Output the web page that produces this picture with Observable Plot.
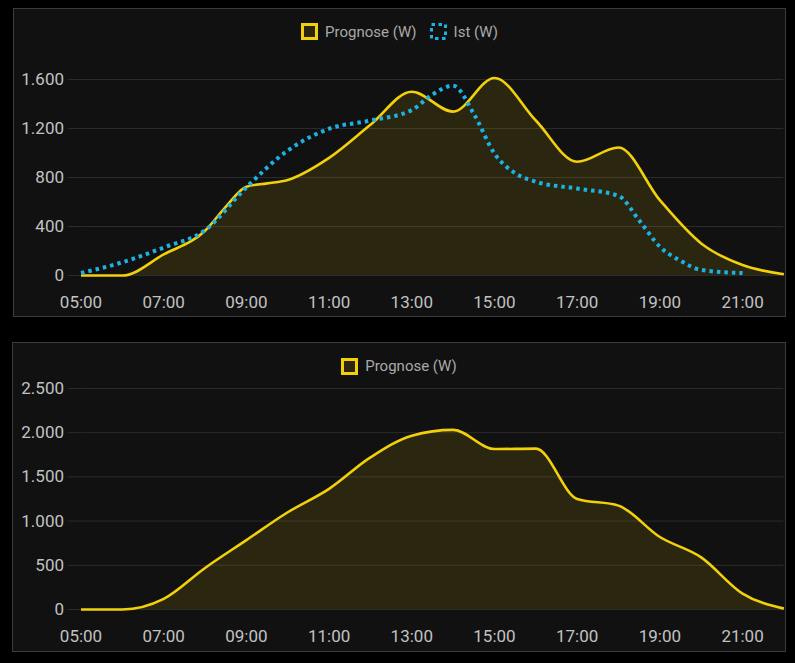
<!DOCTYPE html>
<html>
<head>
<meta charset="utf-8">
<script src="https://cdn.jsdelivr.net/npm/d3@7"></script>
<script src="https://cdn.jsdelivr.net/npm/@observablehq/plot@0.6"></script>
<style>
  html, body { margin:0; padding:0; background:#000; }
  body { width:795px; height:663px; position:relative; overflow:hidden; font-family:Roboto, "Noto Sans", sans-serif; }
  .panel { position:absolute; background:#111111; border:1px solid #3c3c3c; box-sizing:border-box; }
  .chart { position:absolute; }
  .legend { position:absolute; display:flex; justify-content:center; align-items:center; gap:13px; font-size:15px; color:#a9a9a9; }
  .item { display:flex; align-items:center; gap:7px; }
  .item svg { display:block; }
</style>
</head>
<body>
<div class="panel" style="left:13px;top:8px;width:773px;height:309px"></div>
<div class="panel" style="left:12px;top:342px;width:774px;height:310px"></div>
<div id="c1" class="chart" style="left:13px;top:8px"></div>
<div id="c2" class="chart" style="left:12px;top:342px"></div>
<div id="l1" class="legend" style="left:13px;top:22px;width:773px;height:19px"></div>
<div id="l2" class="legend" style="left:12px;top:357px;width:774px;height:18px"></div>
<script>
// ---- data ----
const xTickLabels = ["05:00","07:00","09:00","11:00","13:00","15:00","17:00","19:00","21:00"];
const xDomain = ["05:00","22:00"];

const topYTicks = [0, 400, 800, 1200, 1600];
const topProgTimes = ["05:00","06:00","07:00","08:00","08:30","09:00","09:30","10:00","11:00","12:00","13:00","14:00","15:00","16:00","17:00","18:00","19:00","20:00","21:00","22:00"];
const topProgVals  = [0, 0, 172, 365, 560, 725, 752, 780, 960, 1230, 1500, 1338, 1612, 1265, 928, 1045, 615, 262, 85, 10];
const topIstTimes = ["05:00","06:00","07:00","08:00","09:00","10:00","11:00","12:00","13:00","13:30","14:00","14:30","15:00","15:30","16:00","17:00","18:00","18:30","19:00","19:30","20:00","21:00"];
const topIstVals  = [20, 108, 228, 370, 720, 1020, 1198, 1265, 1350, 1478, 1550, 1320, 995, 835, 765, 710, 650, 450, 235, 120, 45, 20];

const botYTicks = [0, 500, 1000, 1500, 2000, 2500];
const botProgTimes = ["05:00","06:00","07:00","08:00","09:00","10:00","11:00","12:00","13:00","14:00","15:00","16:00","17:00","18:00","19:00","20:00","21:00","22:00"];
const botProgVals  = [0, 0, 120, 470, 785, 1100, 1365, 1720, 1965, 2032, 1815, 1820, 1250, 1175, 820, 590, 180, 10];

const seriesNames = { prog: "Prognose (W)", ist: "Ist (W)" };

// ---- styling ----
const YELLOW = "#f2d00a";
const YELLOW_FILL = "rgba(242,208,10,0.11)";
const BLUE = "#1cb2e6";
const GRID = "#2b2b2b";
const TEXT = "#c2c2c2";

const parse = d3.utcParse("%H:%M");
const de = d3.formatLocale({decimal: ",", thousands: ".", grouping: [3], currency: ["", "€"]});
const fmt = de.format(",d");
const rows = (times, vals) => times.map((t, i) => ({t: parse(t), v: vals[i]}));

function chart({width, height, marginLeft, marginRight, marginTop, marginBottom, yTicks, series}) {
  const marks = [Plot.ruleY(yTicks, {stroke: GRID, strokeWidth: 1})];
  for (const s of series) {
    if (s.fill) marks.push(Plot.areaY(s.data, {x: "t", y: "v", curve: "monotone-x", fill: s.fill}));
  }
  for (const s of series) {
    marks.push(Plot.lineY(s.data, {x: "t", y: "v", curve: "monotone-x", stroke: s.stroke, strokeWidth: s.width, strokeDasharray: s.dash, strokeLinecap: "butt"}));
  }
  marks.push(Plot.axisY({ticks: yTicks, tickFormat: fmt, tickSize: 13, tickPadding: 4, stroke: GRID, fill: TEXT, label: null}));
  marks.push(Plot.axisX({ticks: xTickLabels.map(parse), tickFormat: d3.utcFormat("%H:%M"), tickSize: 0, tickPadding: 20, fill: TEXT, label: null}));
  return Plot.plot({
    width, height, marginLeft, marginRight, marginTop, marginBottom,
    style: {background: "transparent", color: TEXT, fontFamily: "Roboto, sans-serif", fontSize: "17px", overflow: "visible"},
    x: {type: "utc", domain: xDomain.map(parse)},
    y: {domain: [yTicks[0], yTicks[yTicks.length - 1]]},
    marks
  });
}

document.getElementById("c1").append(chart({
  width: 773, height: 309, marginLeft: 67.5, marginRight: 2.6, marginTop: 71, marginBottom: 42,
  yTicks: topYTicks,
  series: [
    {data: rows(topProgTimes, topProgVals), stroke: YELLOW, width: 2.6, fill: YELLOW_FILL},
    {data: rows(topIstTimes, topIstVals), stroke: BLUE, width: 4, dash: "3.5,4"}
  ]
}));

document.getElementById("c2").append(chart({
  width: 774, height: 310, marginLeft: 68.5, marginRight: 2.6, marginTop: 46, marginBottom: 43,
  yTicks: botYTicks,
  series: [
    {data: rows(botProgTimes, botProgVals), stroke: YELLOW, width: 2.6, fill: YELLOW_FILL}
  ]
}));

function legendItem(name, stroke, dash) {
  const d = document.createElement("div");
  d.className = "item";
  d.innerHTML = `<svg width="17" height="17"><rect x="1.5" y="1.5" width="14" height="14" fill="${dash ? "none" : YELLOW_FILL}" stroke="${stroke}" stroke-width="3" ${dash ? `stroke-dasharray="${dash}"` : ""}/></svg><span>${name}</span>`;
  return d;
}
document.getElementById("l1").append(legendItem(seriesNames.prog, YELLOW), legendItem(seriesNames.ist, BLUE, "3.5,3.5"));
document.getElementById("l2").append(legendItem(seriesNames.prog, YELLOW));
</script>
</body>
</html>
